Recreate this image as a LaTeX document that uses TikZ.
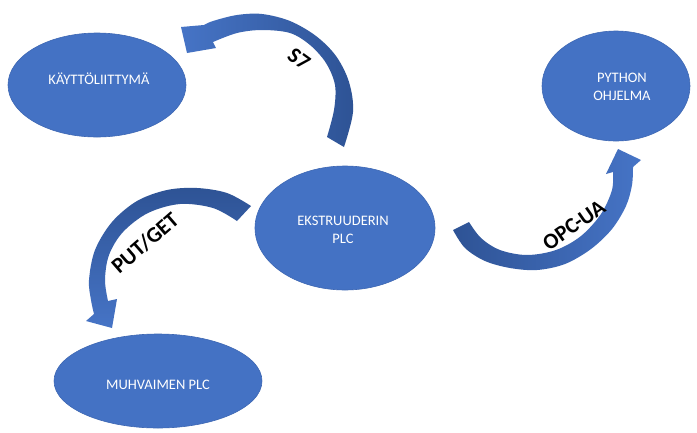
\documentclass[tikz,border=0pt]{standalone}
\usepackage{fontspec}
\setmainfont{Carlito}
\usetikzlibrary{shapes.geometric}
\definecolor{blobfill}{HTML}{4472C4}
\definecolor{blobline}{HTML}{3D67B3}
\definecolor{arrlight}{HTML}{4674C6}
\definecolor{arrdark}{HTML}{2E5395}
\tikzset{
  blob/.style={ellipse, fill=blobfill, draw=blobline, line width=0.6pt, inner sep=0pt},
  blobtext/.style={text=white, align=center, font=\fontsize{14.5}{18.5}\selectfont, inner sep=0pt},
  arrlabel/.style={text=black, font=\bfseries\fontsize{22}{25}\selectfont, inner sep=0pt},
}
\begin{document}
\begin{tikzpicture}[x=1pt,y=-1pt]
\fill[white] (0,0) rectangle (697,432);
\useasboundingbox (0,0) rectangle (697,432);

% ellipses
\node[blob, minimum width=178pt, minimum height=104pt] (ui) at (97,85) {};
\node[blobtext] (uit) at (99,79) {KÄYTTÖLIITTYMÄ};
\node[blob, minimum width=148pt, minimum height=110pt] (py) at (616,86) {};
\node[blobtext] (pyt) at (622,87) {PYTHON\\OHJELMA};
\node[blob, minimum width=180pt, minimum height=124pt] (ex) at (345,228) {};
\node[blobtext] (ext) at (343,230) {EKSTRUUDERIN\\PLC};
\node[blob, minimum width=208pt, minimum height=94pt] (mu) at (158,381) {};
\node[blobtext] (mut) at (158,385) {MUHVAIMEN PLC};

% S7 curved arrow (from EKSTRUUDERIN PLC to KÄYTTÖLIITTYMÄ)
\shade[left color=arrlight, right color=arrdark]
  plot[smooth, tension=0.55] coordinates {(344,147) (353,112) (349,82) (336,56) (316,36) (290,21) (262,14) (237,15) (213,21) (204,25)}
  -- (181,27) -- (187,53) -- (216,48)
  -- plot[smooth, tension=0.55] coordinates {(213,42) (237,33) (262,30) (290,33) (310,45) (326,63) (335,85) (334,110) (327,137)}
  -- cycle;
\node[arrlabel, rotate=-36] (s7) at (299,59) {S7};

% OPC-UA curved arrow (from EKSTRUUDERIN PLC to PYTHON OHJELMA)
\shade[left color=arrdark, right color=arrlight]
  plot[smooth, tension=0.55] coordinates {(453,230) (465,248) (485,261) (510,268) (537,270) (565,264) (591,249) (612,229) (626,206) (632,185) (633,167)}
  -- (641,160) -- (618,149) -- (606,174)
  -- plot[smooth, tension=0.55] coordinates {(613,172) (612,190) (601,214) (581,236) (556,250) (527,255) (500,250) (481,238) (469,222)}
  -- cycle;
\node[arrlabel, rotate=35] (opc) at (574,225) {OPC-UA};

% PUT/GET curved arrow (from EKSTRUUDERIN PLC to MUHVAIMEN PLC)
\shade[top color=arrdark, bottom color=arrlight]
  plot[smooth, tension=0.55] coordinates {(251,206) (227,193) (197,188) (167,190) (137,201) (112,222) (95,250) (89,280) (91,300) (94,314)}
  -- (86,321) -- (112,328) -- (117,299)
  -- plot[smooth, tension=0.55] coordinates {(108,301) (105,280) (109,255) (123,232) (148,213) (180,204) (213,208) (237,221)}
  -- cycle;
\node[arrlabel, rotate=41] (pg) at (145,243) {PUT/GET};
\end{tikzpicture}
\end{document}
